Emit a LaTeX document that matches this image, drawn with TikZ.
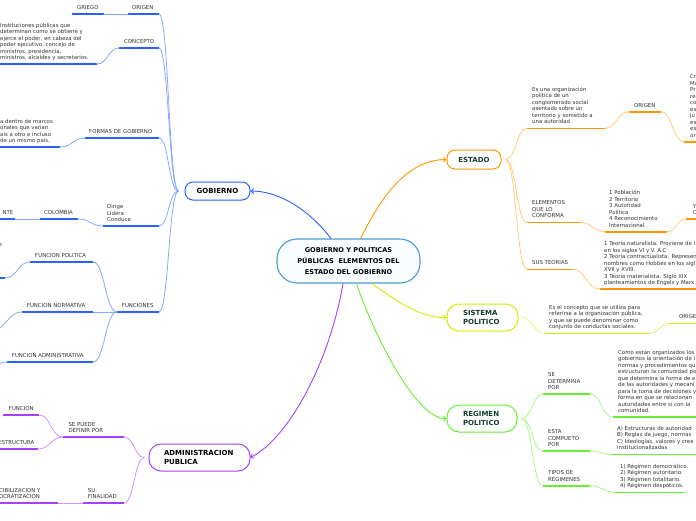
\documentclass[tikz,border=0pt]{standalone}
\usepackage{fontspec}
\setmainfont{DejaVu Sans}
\usetikzlibrary{calc,arrows.meta}
\definecolor{txtc}{HTML}{333333}
\definecolor{nodetxt}{HTML}{153D2C}
\definecolor{blueT}{HTML}{2962FF}
\definecolor{blueL}{HTML}{86A9FF}
\definecolor{orangeT}{HTML}{FF9800}
\definecolor{orangeL}{HTML}{FFCC80}
\definecolor{ygT}{HTML}{CCF000}
\definecolor{ygL}{HTML}{E2FA80}
\definecolor{greenT}{HTML}{66EE33}
\definecolor{greenL}{HTML}{A8F88A}
\definecolor{purpT}{HTML}{A640FF}
\definecolor{purpL}{HTML}{D391FF}
\definecolor{centerB}{HTML}{4A9AD4}
\definecolor{centerF}{HTML}{FAFDFF}
\tikzset{
  txt/.style={inner sep=0pt, anchor=south west, align=left, text=txtc,
    font=\fontsize{5.4}{6.5}\selectfont, execute at end node=\strut},
  thB/.style={draw=blueT, line width=1.6pt},
  tnB/.style={draw=blueL, line width=0.8pt},
  thO/.style={draw=orangeT, line width=1.6pt},
  tnO/.style={draw=orangeL, line width=0.8pt},
  thY/.style={draw=ygT, line width=1.6pt},
  tnY/.style={draw=ygL, line width=0.8pt},
  thG/.style={draw=greenT, line width=1.6pt},
  tnG/.style={draw=greenL, line width=0.8pt},
  thP/.style={draw=purpT, line width=1.6pt},
  tnP/.style={draw=purpL, line width=0.8pt},
  mn/.style={line width=1pt, fill=white, inner ysep=0pt,
    font=\bfseries\fontsize{7}{8.8}\selectfont},
  mainarrow/.style={line width=0.9pt, -{Straight Barb[length=2.5pt,width=5pt]}},
}
\newcommand\mmbar[5]{\coordinate (#2-l) at (#3,#5); \coordinate (#2-r) at (#4,#5); \draw[#1] (#2-l) -- (#2-r);}
\newcommand\mmconn[3]{\draw[#1] let \p1=(#2), \p2=(#3), \n1={(\x2-\x1)/2}, \n2={(\x1-\x2)/2} in (\p1) .. controls +(\n1,0pt) and +(\n2,0pt) .. (\p2);}
\begin{document}
\begin{tikzpicture}[x=1pt,y=-1pt]
\useasboundingbox (0,0) rectangle (696,520);
\fill[white] (0,0) rectangle (696,520);
\clip (0,0) rectangle (696,520);

% main nodes
\node[draw=centerB, line width=1.1pt, fill=centerF, rounded corners=20pt, minimum width=143pt, minimum height=44pt, align=center, inner sep=0pt, text=black, font=\bfseries\fontsize{6.6}{10.7}\selectfont] (c) at (348.5,261) {GOBIERNO Y POLITICAS\\PÚBLICAS\ \ ELEMENTOS DEL\\ESTADO DEL GOBIERNO};
\node[mn, draw=blueT, text=black, minimum width=65pt, minimum height=18pt, rounded corners=8pt, align=center] (gob) at (217.5,191) {GOBIERNO};
\node[mn, draw=orangeT, text=nodetxt, minimum width=54pt, minimum height=19pt, rounded corners=8pt, align=center] (est) at (474,159.5) {ESTADO};
\node[mn, draw=ygT, text=nodetxt, minimum height=27pt, rounded corners=12pt, align=left, inner xsep=16pt, text width=39pt] (sis) at (482.5,317.5) {SISTEMA\\POLITICO};
\node[mn, draw=greenT, text=nodetxt, minimum height=27pt, rounded corners=12pt, align=left, inner xsep=16pt, text width=38pt] (reg) at (482,418.5) {REGIMEN\\POLITICO};
\node[mn, draw=purpT, text=black, minimum height=27pt, rounded corners=12pt, align=left, inner xsep=15pt, text width=71pt] (adm) at (199.5,457.5) {ADMINISTRACION\\PUBLICA};

% main arrows
\draw[mainarrow, draw=blueT] ($(c.north)+(-17.5,0)$) .. controls (305,205) and (275,191) .. (gob.east);
\draw[mainarrow, draw=orangeT] ($(c.north)+(12,0)$) .. controls (380,200) and (405,160) .. (est.west);
\draw[mainarrow, draw=ygT] ($(c.south)+(23.5,0)$) .. controls (395,300) and (420,318) .. (sis.west);
\draw[mainarrow, draw=greenT] ($(c.south)+(8,0)$) .. controls (372,330) and (415,419) .. (reg.west);
\draw[mainarrow, draw=purpT] ($(c.south)+(-5.5,0)$) .. controls (330,360) and (290,437) .. (adm.east);

% ---------------- GOBIERNO branch
\coordinate (hubG) at ($(gob.west)+(-6,0)$);
\mmbar{thB}{orig}{128}{159}{14}
\node[txt] (origT) at (132,11.7) {ORIGEN};
\mmbar{thB}{grie}{72}{104}{14}
\node[txt] (grieT) at (77,11.7) {GRIEGO};
\mmbar{thB}{conc}{119}{159}{48}
\node[txt] (concT) at (124,45.7) {CONCEPTO};
\mmbar{thB}{concd}{-5}{97}{64}
\node[txt] (concdT) at (0,61.7) {Instituciones públicas que\\determinan como se obtiene y\\ejerce el poder, en cabeza del\\poder ejecutivo, concejo de\\ministros, presidencia,\\ministros, alcaldes y secretarios.};
\mmbar{thB}{form}{85}{159}{138}
\node[txt] (formT) at (89,135.7) {FORMAS DE GOBIERNO};
\mmbar{thB}{formd}{-5}{60}{147}
\node[txt] (formdT) at (0,144.7) {a dentro de marcos\\onales que varian\\ais a otro e incluso\\de un mismo país.};
\mmbar{thB}{dir}{103}{159}{226}
\node[txt] (dirT) at (107,223.7) {Dirige\\Lidera\\Conduce};
\mmbar{thB}{col}{40}{78}{219}
\node[txt] (colT) at (44,216.7) {COLOMBIA};
\mmbar{thB}{nte}{-10}{15}{219}
\node[txt, anchor=south east] (nteT) at (13.5,216.7) {NTE};
\node[txt] (fragT) at (-1.5,248.5) {e};
\mmbar{thB}{fun}{117}{159}{312}
\node[txt] (funT) at (121.7,309.7) {FUNCIONES};
\mmbar{thB}{fpol}{30}{93}{262}
\node[txt] (fpolT) at (35,259.7) {FUNCION POLITICA};
\mmbar{thB}{fpolc}{-20}{5}{278}
\mmbar{thB}{fnor}{22}{93}{312}
\node[txt] (fnorT) at (26.7,309.7) {FUNCION NORMATIVA};
\coordinate (fnorc) at (-8,330);
\mmbar{thB}{fadm}{7}{93}{362}
\node[txt] (fadmT) at (11.7,359.7) {FUNCION ADMINISTRATIVA};
\coordinate (fadmc) at (-12,368);

\mmconn{tnB}{hubG}{orig-r}
\mmconn{tnB}{hubG}{conc-r}
\mmconn{tnB}{hubG}{form-r}
\mmconn{tnB}{hubG}{dir-r}
\mmconn{tnB}{hubG}{fun-r}
\mmconn{tnB}{orig-l}{grie-r}
\mmconn{tnB}{conc-l}{concd-r}
\mmconn{tnB}{form-l}{formd-r}
\mmconn{tnB}{dir-l}{col-r}
\mmconn{tnB}{col-l}{nte-r}
\mmconn{tnB}{fun-l}{fpol-r}
\mmconn{tnB}{fun-l}{fnor-r}
\mmconn{tnB}{fun-l}{fadm-r}
\mmconn{tnB}{fpol-l}{fpolc-r}
\mmconn{tnB}{fnor-l}{fnorc}
\mmconn{tnB}{fadm-l}{fadmc}

% ---------------- ADMINISTRACION branch
\coordinate (hubA) at ($(adm.west)+(-4,0)$);
\mmbar{thP}{sep}{63}{124}{437}
\node[txt] (sepT) at (68.3,434.7) {SE PUEDE\\DEFINIR POR};
\mmbar{thP}{afun}{3}{39}{415}
\node[txt] (afunT) at (8.7,412.7) {FUNCION};
\mmbar{thP}{aest}{-5}{38}{449}
\node[txt, anchor=south east] (aestT) at (34.5,446.7) {ESTRUCTURA};
\mmbar{thP}{suf}{83}{124}{503}
\node[txt] (sufT) at (87.7,500.7) {SU\\FINALIDAD};
\mmbar{thP}{vis}{-5}{58}{503}
\node[txt] (visT) at (-1,500.7) {CIBILIZACION Y\\OCRATIZACION};
\mmconn{tnP}{hubA}{sep-r}
\mmconn{tnP}{hubA}{suf-r}
\mmconn{tnP}{sep-l}{afun-r}
\mmconn{tnP}{sep-l}{aest-r}
\mmconn{tnP}{suf-l}{vis-r}

% ---------------- ESTADO branch
\coordinate (hubE) at ($(est.east)+(4,0)$);
\mmbar{thO}{eorg}{527}{605}{128.3}
\node[txt] (eorgT) at (532,126) {Es una organización\\política de un\\conglomerado social\\asentado sobre un\\territorio y sometido a\\una autoridad};
\mmbar{thO}{eori}{629}{661}{111.7}
\node[txt] (eoriT) at (634,109.4) {ORIGEN};
\mmbar{thO}{eorc}{684}{700}{141.7}
\node[txt] (eorcT) at (690,139.4) {Cr\\Ma\\Pr\\rel\\co\\es\\ju\\es\\es\\or};
\mmbar{thO}{eele}{527}{580}{222.3}
\node[txt] (eeleT) at (532,220) {ELEMENTOS\\QUE LO\\CONFORMA};
\mmbar{thO}{elis}{605}{667}{231.7}
\node[txt] (elisT) at (609,229.4) {1 Población\\2 Territorio\\3 Autoridad\\Política\\4 Reconocimiento\\Internacional};
\mmbar{thO}{eyc}{686}{700}{219}
\node[txt] (eycT) at (692.7,216.7) {Y\\C};
\mmbar{thO}{eteo}{527}{572}{269.3}
\node[txt] (eteoT) at (532,267) {SUS TEORIAS};
\mmbar{thO}{etxt}{600}{700}{289}
\node[txt] (etxtT) at (604,286.7) {1 Teoría naturalista. Proviene de l\\en los siglos VI y V. A.C\\2 Teoría contractualista. Represen\\nombres como Hobbes en los sigl\\XVII y XVIII.\\3 Teoría materialista. Siglo XIX\\planteamientos de Engels y Marx};
\mmconn{tnO}{hubE}{eorg-l}
\mmconn{tnO}{hubE}{eele-l}
\mmconn{tnO}{hubE}{eteo-l}
\mmconn{tnO}{eorg-r}{eori-l}
\mmconn{tnO}{eori-r}{eorc-l}
\mmconn{tnO}{eele-r}{elis-l}
\mmconn{tnO}{elis-r}{eyc-l}
\mmconn{tnO}{eteo-r}{etxt-l}

% ---------------- SISTEMA branch
\coordinate (hubS) at ($(sis.east)+(3,0)$);
\mmbar{thY}{scon}{545}{650}{333.3}
\node[txt] (sconT) at (549,331) {Es el concepto que se utiliza para\\referirse a la organización pública,\\y que se puede denominar como\\conjunto de conductas sociales.};
\mmbar{thY}{sori}{669}{700}{323.3}
\node[txt] (soriT) at (679,321) {ORIGEN};
\mmconn{tnY}{hubS}{scon-l}
\mmconn{tnY}{scon-r}{sori-l}

% ---------------- REGIMEN branch
\coordinate (hubR) at ($(reg.east)+(4,0)$);
\mmbar{thG}{rdet}{543}{590}{394}
\node[txt] (rdetT) at (548,391.7) {SE\\DETERMINA\\POR};
\mmbar{thG}{rdtx}{613}{700}{417}
\node[txt] (rdtxT) at (618,414.7) {Como están organizados los\\gobiernos la orientación de l\\normas y procedimientos qu\\estructuran la comunidad po\\que determina la forma de e\\de las autoridades y mecani\\para la toma de decisiones y\\forma en que se relacionan\\autoridades entre si con la\\comunidad.};
\mmbar{thG}{rcom}{543}{590}{451}
\node[txt] (rcomT) at (548,448.7) {ESTA\\COMPUETO\\POR};
\mmbar{thG}{rctx}{612}{700}{454.3}
\node[txt] (rctxT) at (617,452) {A) Estructuras de autoridad\\B) Reglas de juego, normas\\C) Ideologías, valores y cree\\institucionalizadas};
\mmbar{thG}{rtip}{543}{590}{485.7}
\node[txt] (rtipT) at (548,483.4) {TIPOS DE\\REGIMENES};
\mmbar{thG}{rttx}{615}{684}{492.3}
\node[txt] (rttxT) at (620,490) {1) Régimen democrático.\\2) Régimen autoritario.\\3) Régimen totalitario.\\4) Régimen despóticos.};
\mmconn{tnG}{hubR}{rdet-l}
\mmconn{tnG}{hubR}{rcom-l}
\mmconn{tnG}{hubR}{rtip-l}
\mmconn{tnG}{rdet-r}{rdtx-l}
\mmconn{tnG}{rcom-r}{rctx-l}
\mmconn{tnG}{rtip-r}{rttx-l}
\end{tikzpicture}
\end{document}
